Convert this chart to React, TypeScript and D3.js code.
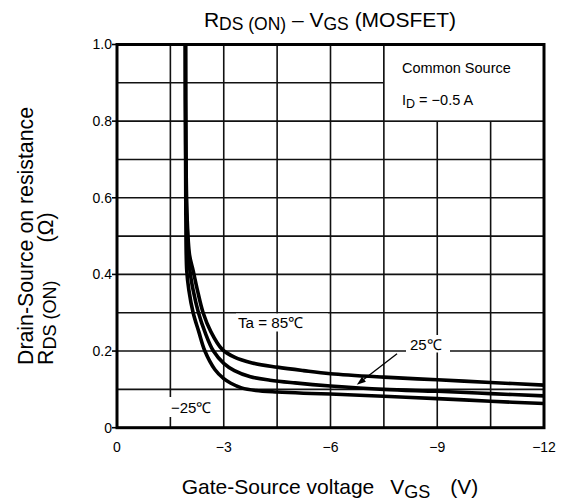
import React from "react";
import * as d3 from "d3";

// ---- data (Ta = 85 °C, 25 °C, −25 °C) ----
const vgs85 = [-1.925, -1.935, -1.97, -2.04, -2.14, -2.26, -2.42, -2.64, -2.95, -3.3, -3.8, -4.5, -5.24, -6.0, -7.5, -9.0, -10.5, -12.0];
const rds85 = [1.0, 0.75, 0.55, 0.45, 0.41, 0.359, 0.30, 0.25, 0.205, 0.184, 0.169, 0.158, 0.149, 0.141, 0.132, 0.125, 0.118, 0.111];

const vgs25 = [-1.925, -1.93, -1.96, -2.05, -2.14, -2.29, -2.47, -2.71, -3.0, -3.3, -3.75, -4.3, -5.0, -6.0, -7.5, -9.0, -10.5, -12.0];
const rds25 = [1.0, 0.75, 0.55, 0.41, 0.359, 0.30, 0.25, 0.20, 0.168, 0.149, 0.133, 0.124, 0.117, 0.109, 0.100, 0.095, 0.089, 0.083];

const vgsM25 = [-1.92, -1.925, -1.935, -1.96, -2.02, -2.14, -2.30, -2.47, -2.75, -3.0, -3.2, -3.5, -3.9, -4.5, -5.24, -6.0, -7.5, -9.0, -10.5, -12.0];
const rdsM25 = [1.0, 0.75, 0.55, 0.41, 0.359, 0.30, 0.25, 0.20, 0.152, 0.128, 0.116, 0.104, 0.097, 0.093, 0.090, 0.088, 0.082, 0.076, 0.069, 0.063];

const xTicks = [0, -3, -6, -9, -12];
const xTickLabels = ["0", "\u22123", "\u22126", "\u22129", "\u221212"];
const yTicks = [0, 0.2, 0.4, 0.6, 0.8, 1.0];
const yTickLabels = ["0", "0.2", "0.4", "0.6", "0.8", "1.0"];
const xGrid = [-1.5, -3, -4.5, -6, -7.5, -9, -10.5];
const yGrid = [0.1, 0.2, 0.3, 0.4, 0.5, 0.6, 0.7, 0.8, 0.9];

const FONT = "'Liberation Sans', Arial, Helvetica, sans-serif";

export default function App() {
  const W = 563, H = 502;
  const left = 117, right = 544, top = 44.5, bottom = 427.7;
  const x = d3.scaleLinear().domain([0, -12]).range([left, right]);
  const y = d3.scaleLinear().domain([0, 1]).range([bottom, top]);

  const line = d3
    .line<[number, number]>()
    .x((d) => x(d[0]))
    .y((d) => y(d[1]))
    .curve(d3.curveCatmullRom.alpha(0.5));

  const series = [
    vgs85.map((v, i) => [v, rds85[i]] as [number, number]),
    vgs25.map((v, i) => [v, rds25[i]] as [number, number]),
    vgsM25.map((v, i) => [v, rdsM25[i]] as [number, number]),
  ];

  // arrow for 25°C label (data units)
  const a0 = [x(-7.87), y(0.193)];
  const a1 = [x(-6.74), y(0.112)];
  const ang = Math.atan2(a1[1] - a0[1], a1[0] - a0[0]);
  const ah = 9, aw = 3.2;
  const bx = a1[0] - ah * Math.cos(ang), by = a1[1] - ah * Math.sin(ang);
  const p1 = [bx + aw * Math.sin(ang), by - aw * Math.cos(ang)];
  const p2 = [bx - aw * Math.sin(ang), by + aw * Math.cos(ang)];

  return (
    <svg width={W} height={H} style={{ position: "absolute", left: 0, top: 0, background: "#fff" }} fontFamily={FONT}>
      <defs>
        <clipPath id="plot">
          <rect x={left} y={top} width={right - left} height={bottom - top} />
        </clipPath>
      </defs>
      <rect x={0} y={0} width={W} height={H} fill="#fff" />

      {/* grid */}
      {xGrid.map((g) => (
        <line key={"xg" + g} x1={x(g)} x2={x(g)} y1={top} y2={bottom} stroke="#111" strokeWidth={1.6} />
      ))}
      {yGrid.map((g) => (
        <line key={"yg" + g} x1={left} x2={right} y1={y(g)} y2={y(g)} stroke="#111" strokeWidth={1.6} />
      ))}

      {/* legend box */}
      <rect x={x(-7.5)} y={y(1)} width={x(-12) - x(-7.5)} height={y(0.8) - y(1)} fill="#fff" stroke="#111" strokeWidth={1.6} />
      <text x={402} y={73} fontSize={14.5} fill="#000">Common Source</text>
      <text x={402} y={105} fontSize={14.5} fill="#000">
        I<tspan fontSize={12.5} dy={3}>D</tspan>
        <tspan dy={-3}> = {"\u2212"}0.5 A</tspan>
      </text>

      {/* curves */}
      <g clipPath="url(#plot)">
        {series.map((s, i) => (
          <path key={i} d={line(s) || ""} fill="none" stroke="#000" strokeWidth={3.6} strokeLinejoin="round" />
        ))}
      </g>

      {/* labels with white boxes */}
      <rect x={236} y={313.5} width={92} height={18} fill="#fff" />
      <text x={238} y={328} fontSize={15.2} fill="#000">Ta = 85{"\u2103"}</text>

      <rect x={406} y={335} width={44} height={17.5} fill="#fff" />
      <text x={410} y={350} fontSize={15} fill="#000">25{"\u2103"}</text>

      <rect x={168} y={397} width={47} height={20} fill="#fff" />
      <text x={171} y={413} fontSize={15} fill="#000">{"\u2212"}25{"\u2103"}</text>

      {/* arrow */}
      <line x1={a0[0]} y1={a0[1]} x2={bx} y2={by} stroke="#000" strokeWidth={1.3} />
      <path d={`M${a1[0]},${a1[1]}L${p1[0]},${p1[1]}L${p2[0]},${p2[1]}Z`} fill="#000" />

      {/* frame */}
      <rect x={left} y={top} width={right - left} height={bottom - top} fill="none" stroke="#000" strokeWidth={3} />

      {/* y ticks */}
      {yTicks.map((t, i) => (
        <g key={"yt" + t}>
          <line x1={left - 5} x2={left} y1={y(t)} y2={y(t)} stroke="#000" strokeWidth={1.6} />
          <text x={left - 5} y={y(t)} dy="0.35em" textAnchor="end" fontSize={14} fill="#000">
            {yTickLabels[i]}
          </text>
        </g>
      ))}
      {/* x ticks */}
      {xTicks.map((t, i) => (
        <text key={"xt" + t} x={x(t)} y={452} textAnchor="middle" fontSize={14} fill="#000">
          {xTickLabels[i]}
        </text>
      ))}

      {/* title */}
      <text x={330} y={26.5} textAnchor="middle" fontSize={21} fill="#000">
        R<tspan fontSize={17.5} dy={3.5}>DS (ON)</tspan>
        <tspan dy={-3.5}> {"\u2013"} V</tspan>
        <tspan fontSize={17.5} dy={3.5}>GS</tspan>
        <tspan dy={-3.5}> (MOSFET)</tspan>
      </text>

      {/* x axis title */}
      <text x={330} y={494} textAnchor="middle" fontSize={21} fill="#000">
        Gate-Source voltage
        <tspan dx={16}>V</tspan>
        <tspan fontSize={18} dy={3.5}>GS</tspan>
        <tspan dx={20} dy={-3.5}>(V)</tspan>
      </text>

      {/* y axis title */}
      <g transform="translate(33,365) rotate(-90)">
        <text x={0} y={0} fontSize={21.3} fill="#000">Drain-Source on resistance</text>
        <text x={0} y={19.5} fontSize={21.3} fill="#000">
          R<tspan fontSize={18} dy={3.5}>DS (ON)</tspan>
          <tspan dx={38} dy={-3.5}>({"\u03A9"})</tspan>
        </text>
      </g>
    </svg>
  );
}
